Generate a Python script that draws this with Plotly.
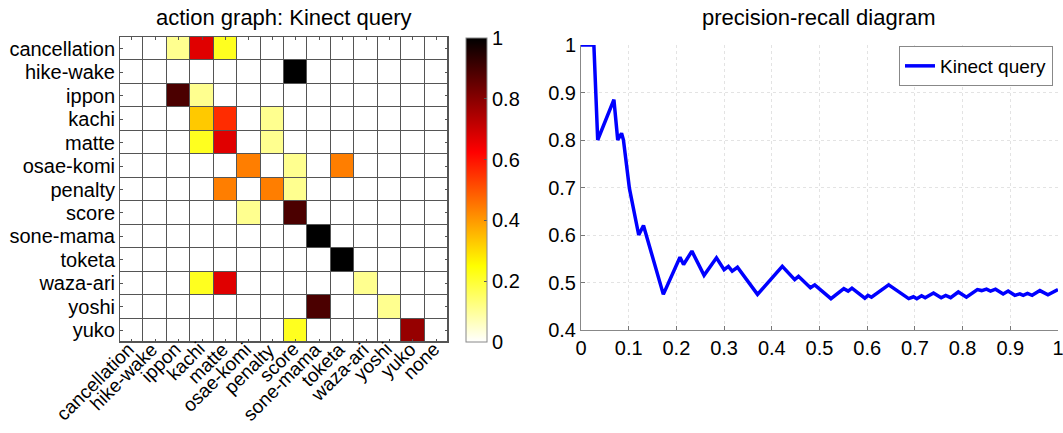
import plotly.graph_objects as go

labels_x = ["cancellation", "hike-wake", "ippon", "kachi", "matte", "osae-komi", "penalty",
            "score", "sone-mama", "toketa", "waza-ari", "yoshi", "yuko", "none"]
labels_y = ["cancellation", "hike-wake", "ippon", "kachi", "matte", "osae-komi", "penalty",
            "score", "sone-mama", "toketa", "waza-ari", "yoshi", "yuko"]

# confusion values: rows = labels_y, columns = labels_x
z_cancellation = [0, 0, 0.11, 0.67, 0.22, 0, 0, 0, 0, 0, 0, 0, 0, 0]
z_hike_wake    = [0, 0, 0, 0, 0, 0, 0, 1.0, 0, 0, 0, 0, 0, 0]
z_ippon        = [0, 0, 0.89, 0.11, 0, 0, 0, 0, 0, 0, 0, 0, 0, 0]
z_kachi        = [0, 0, 0, 0.33, 0.56, 0, 0.11, 0, 0, 0, 0, 0, 0, 0]
z_matte        = [0, 0, 0, 0.22, 0.67, 0, 0.11, 0, 0, 0, 0, 0, 0, 0]
z_osae_komi    = [0, 0, 0, 0, 0, 0.44, 0, 0.11, 0, 0.44, 0, 0, 0, 0]
z_penalty      = [0, 0, 0, 0, 0.44, 0, 0.44, 0.11, 0, 0, 0, 0, 0, 0]
z_score        = [0, 0, 0, 0, 0, 0.11, 0, 0.89, 0, 0, 0, 0, 0, 0]
z_sone_mama    = [0, 0, 0, 0, 0, 0, 0, 0, 1.0, 0, 0, 0, 0, 0]
z_toketa       = [0, 0, 0, 0, 0, 0, 0, 0, 0, 1.0, 0, 0, 0, 0]
z_waza_ari     = [0, 0, 0, 0.22, 0.67, 0, 0, 0, 0, 0, 0.11, 0, 0, 0]
z_yoshi        = [0, 0, 0, 0, 0, 0, 0, 0, 0.89, 0, 0, 0.11, 0, 0]
z_yuko         = [0, 0, 0, 0, 0, 0, 0, 0.22, 0, 0, 0, 0, 0.78, 0]

z = [z_cancellation, z_hike_wake, z_ippon, z_kachi, z_matte, z_osae_komi, z_penalty,
     z_score, z_sone_mama, z_toketa, z_waza_ari, z_yoshi, z_yuko]

recall = [0, 0.027, 0.035, 0.069, 0.077, 0.085, 0.089, 0.1015, 0.121, 0.131, 0.1726,
          0.2075, 0.215, 0.2325, 0.258, 0.284, 0.300, 0.309, 0.317, 0.328, 0.370,
          0.422, 0.448, 0.456, 0.481, 0.490, 0.524, 0.551, 0.560, 0.568, 0.595,
          0.6016, 0.609, 0.645, 0.687, 0.697, 0.704, 0.714, 0.7215, 0.739, 0.755,
          0.7645, 0.775, 0.791, 0.808, 0.831, 0.840, 0.850, 0.8586, 0.869, 0.885,
          0.8955, 0.9095, 0.920, 0.927, 0.936, 0.9457, 0.962, 0.979, 1.0]
precision = [1.0, 1.0, 0.80, 0.885, 0.80, 0.814, 0.80, 0.698, 0.60, 0.62, 0.475,
             0.553, 0.538, 0.566, 0.515, 0.552, 0.527, 0.534, 0.524, 0.532, 0.475,
             0.534, 0.506, 0.513, 0.489, 0.495, 0.466, 0.487, 0.482, 0.488, 0.467,
             0.473, 0.469, 0.495, 0.466, 0.470, 0.466, 0.472, 0.468, 0.478, 0.468,
             0.473, 0.468, 0.480, 0.469, 0.485, 0.483, 0.486, 0.482, 0.486, 0.476,
             0.482, 0.473, 0.476, 0.473, 0.477, 0.473, 0.483, 0.474, 0.485]

pr_xticks = [0, 0.1, 0.2, 0.3, 0.4, 0.5, 0.6, 0.7, 0.8, 0.9, 1]
pr_xticktext = ["0", "0.1", "0.2", "0.3", "0.4", "0.5", "0.6", "0.7", "0.8", "0.9", "1"]
pr_yticks = [0.4, 0.5, 0.6, 0.7, 0.8, 0.9, 1]
pr_yticktext = ["0.4", "0.5", "0.6", "0.7", "0.8", "0.9", "1"]
cb_ticks = [0, 0.2, 0.4, 0.6, 0.8, 1]
cb_ticktext = ["0", "0.2", "0.4", "0.6", "0.8", "1"]

W, H = 1063, 433
FONT = "Liberation Sans, Arial, sans-serif"
TICK = 20
TITLE = 22

def px(x):
    return x / W

def py(y):
    return 1 - y / H

hot_r = [[0.0, "rgb(255,255,255)"], [0.25, "rgb(255,255,0)"],
         [0.625, "rgb(255,0,0)"], [1.0, "rgb(0,0,0)"]]

fig = go.Figure()
fig.add_trace(go.Heatmap(
    z=z, x=list(range(len(labels_x))), y=list(range(len(labels_y))),
    colorscale=hot_r, zmin=0, zmax=1, xgap=1, ygap=1,
    xaxis="x", yaxis="y",
    hoverinfo="skip",
    colorbar=dict(
        x=px(466), xanchor="left", y=py(342), yanchor="bottom",
        lenmode="pixels", len=304, thicknessmode="pixels", thickness=21,
        outlinewidth=1, outlinecolor="#888",
        tickvals=cb_ticks, ticktext=cb_ticktext, ticks="inside", ticklen=3,
        tickcolor="#555", tickfont=dict(size=TICK, color="black", family=FONT),
        xpad=0, ypad=0,
    ),
))

fig.add_trace(go.Scatter(
    x=recall, y=precision, mode="lines", name="Kinect query",
    line=dict(color="rgb(0,0,255)", width=3.5),
    xaxis="x2", yaxis="y2",
))

# rotated category labels for the heatmap x axis
xlabel_annots = [
    dict(text=lab, x=i + 0.4, y=py(336), xref="x", yref="paper", textangle=-45,
         showarrow=False, xanchor="right", yanchor="top", font=dict(size=19))
    for i, lab in enumerate(labels_x)
]

fig.update_layout(
    width=W, height=H,
    margin=dict(l=0, r=0, t=0, b=0, autoexpand=False),
    paper_bgcolor="white",
    plot_bgcolor="#555",
    font=dict(family=FONT, size=TICK, color="black"),
    xaxis=dict(
        domain=[px(120), px(448)], range=[-0.5, 13.5], automargin=False,
        tickvals=list(range(len(labels_x))), ticktext=labels_x, showticklabels=False,
        ticks="inside", ticklen=3, tickcolor="#555", mirror="ticks",
        showline=True, linecolor="#555", linewidth=1,
        showgrid=False, zeroline=False,
    ),
    yaxis=dict(
        domain=[py(342), py(37)], range=[12.5, -0.5], automargin=False,
        tickvals=list(range(len(labels_y))), ticktext=labels_y,
        ticks="inside", ticklen=3, tickcolor="#555", mirror="ticks",
        showline=True, linecolor="#555", linewidth=1,
        showgrid=False, zeroline=False, tickfont=dict(size=TICK),
    ),
    xaxis2=dict(
        domain=[px(581), px(1058)], range=[0, 1], anchor="y2", automargin=False,
        tickvals=pr_xticks, ticktext=pr_xticktext, ticklabeloverflow="allow",
        ticks="inside", ticklen=4, tickcolor="#777",
        showline=True, linecolor="#888", linewidth=1,
        showgrid=True, gridcolor="#e3e3e3", griddash="dot", gridwidth=1,
        zeroline=False, tickfont=dict(size=TICK),
    ),
    yaxis2=dict(
        domain=[py(330), py(45)], range=[0.4, 1], anchor="x2", automargin=False,
        tickvals=pr_yticks, ticktext=pr_yticktext, ticklabeloverflow="allow",
        ticks="inside", ticklen=4, tickcolor="#777",
        showline=True, linecolor="#888", linewidth=1,
        showgrid=True, gridcolor="#e3e3e3", griddash="dot", gridwidth=1,
        zeroline=False, tickfont=dict(size=TICK),
    ),
    showlegend=True,
    legend=dict(
        x=px(1053), xanchor="right", y=py(46), yanchor="top",
        bgcolor="white", bordercolor="#888", borderwidth=1,
        font=dict(size=19), itemwidth=30, tracegroupgap=0,
    ),
    annotations=[
        dict(text="action graph: Kinect query", x=px(284), y=py(18), xref="paper", yref="paper",
             showarrow=False, font=dict(size=TITLE), xanchor="center", yanchor="middle"),
        dict(text="precision-recall diagram", x=px(819), y=py(18), xref="paper", yref="paper",
             showarrow=False, font=dict(size=TITLE), xanchor="center", yanchor="middle"),
    ] + xlabel_annots,
)

# white background for the PR axes (plot_bgcolor is used for heatmap grid lines)
fig.add_shape(type="rect", xref="x2 domain", yref="y2 domain", x0=0, x1=1, y0=0, y1=1,
              fillcolor="white", line=dict(width=0), layer="below")

fig.write_html("out.html")
